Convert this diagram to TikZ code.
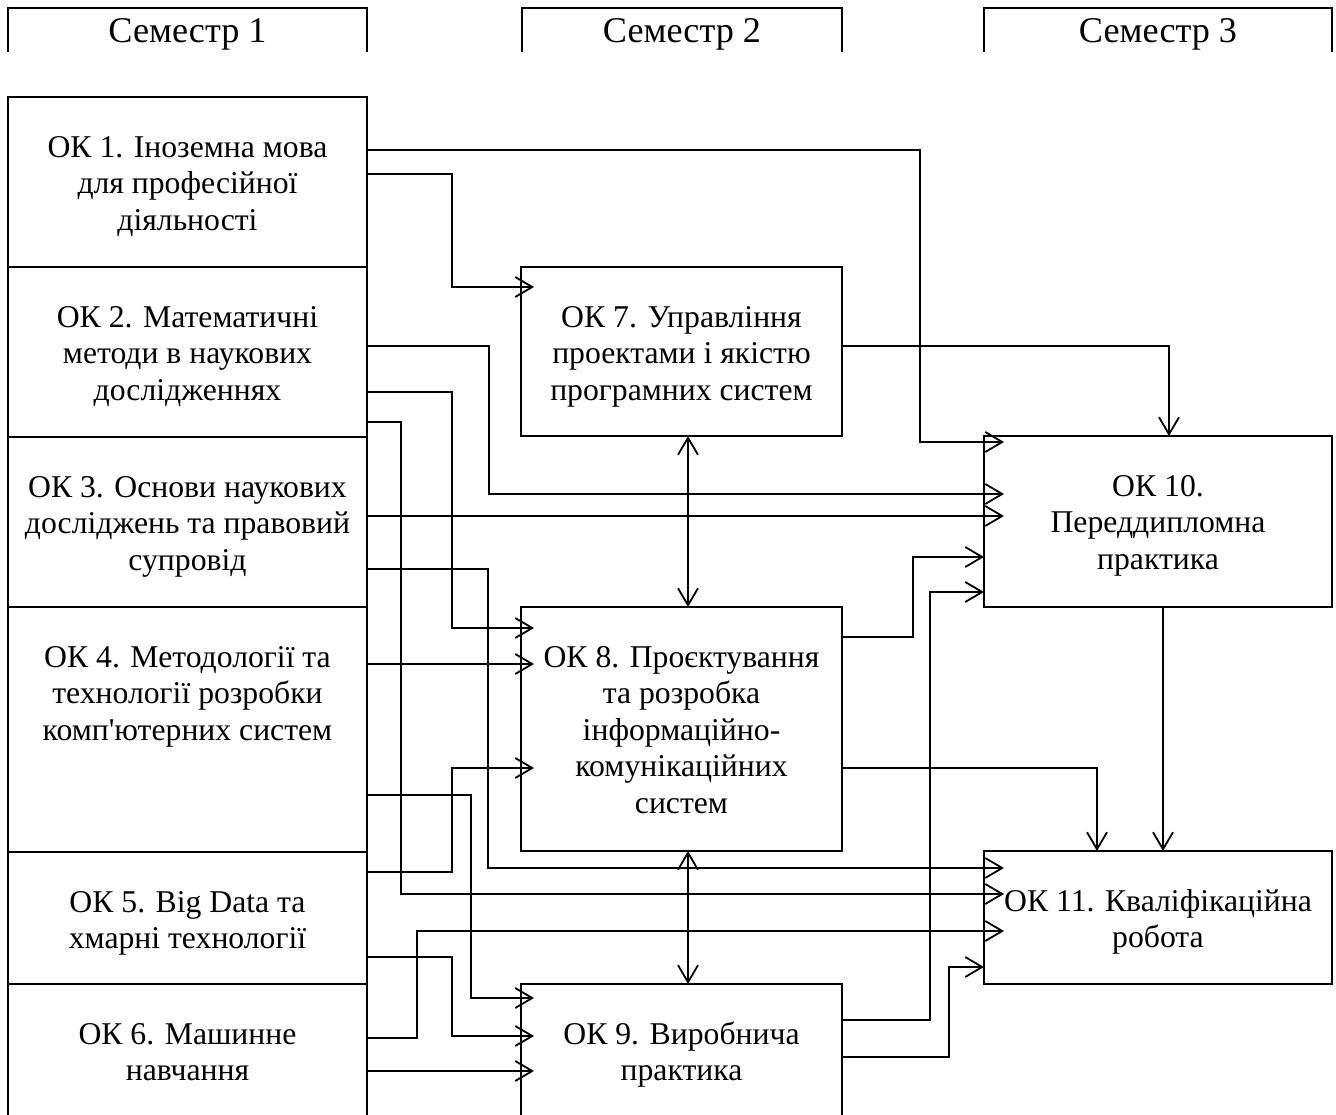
\documentclass[tikz,border=0pt]{standalone}
\usepackage{fontspec}
\newfontfamily\tnr{Liberation Serif}
\usetikzlibrary{arrows.meta,calc}
\begin{document}
\begin{tikzpicture}[x=1pt,y=-1pt,
  box/.style={draw, line width=2.5pt, rectangle, inner sep=0pt, outer sep=0pt},
  hline/.style={line width=2.5pt},
  txt/.style={font=\tnr\fontsize{31.7}{36.5}\selectfont, align=center, anchor=north, inner sep=0pt},
  head/.style={font=\tnr\fontsize{36.2}{40}\selectfont, anchor=north, inner sep=0pt},
  link/.style={line width=1.8pt, -{Straight Barb[length=17pt,width=20pt]}},
  both/.style={line width=1.8pt, {Straight Barb[length=17pt,width=20pt]}-{Straight Barb[length=17pt,width=20pt]}},
]
\useasboundingbox (0,0) rectangle (1336,1115);
\clip (0,0) rectangle (1336,1115);
\fill[white] (0,0) rectangle (1336,1115);

% headers
\draw[hline] (8,52) |- (367,8) -- (367,52);
\draw[hline] (522,52) |- (842,8) -- (842,52);
\draw[hline] (984,52) |- (1332,8) -- (1332,52);
\node[head] (h1) at (187.5,12) {\rule{0pt}{30pt}Семестр 1};
\node[head] (h2) at (682,12) {\rule{0pt}{30pt}Семестр 2};
\node[head] (h3) at (1158,12) {\rule{0pt}{30pt}Семестр 3};

% left column
\node[box, minimum width=359pt, minimum height=170pt] (ok1) at (187.5,182) {};
\node[box, minimum width=359pt, minimum height=170pt] (ok2) at (187.5,352) {};
\node[box, minimum width=359pt, minimum height=170pt] (ok3) at (187.5,522) {};
\node[box, minimum width=359pt, minimum height=245pt] (ok4) at (187.5,729.5) {};
\node[box, minimum width=359pt, minimum height=132pt] (ok5) at (187.5,918) {};
\node[box, minimum width=359pt, minimum height=141pt] (ok6) at (187.5,1054.5) {};
% middle column
\node[box, minimum width=321pt, minimum height=169pt] (ok7) at (681.5,351.5) {};
\node[box, minimum width=321pt, minimum height=244pt] (ok8) at (681.5,729) {};
\node[box, minimum width=321pt, minimum height=141pt] (ok9) at (681.5,1054.5) {};
% right column
\node[box, minimum width=348pt, minimum height=171pt] (ok10) at (1158,521.5) {};
\node[box, minimum width=348pt, minimum height=133pt] (ok11) at (1158,917.5) {};

% texts
\node[txt] (t1) at (187.5,127) {\rule{0pt}{30pt}ОК 1. Іноземна мова\\для професійної\\діяльності};
\node[txt] (t2) at (187.5,297) {\rule{0pt}{30pt}ОК 2. Математичні\\методи в наукових\\дослідженнях};
\node[txt] (t3) at (187.5,467) {\rule{0pt}{30pt}ОК 3. Основи наукових\\досліджень та правовий\\супровід};
\node[txt] (t4) at (187.5,637) {\rule{0pt}{30pt}ОК 4. Методології та\\технології розробки\\комп'ютерних систем};
\node[txt] (t5) at (187.5,882) {\rule{0pt}{30pt}ОК 5. Big Data та\\хмарні технології};
\node[txt] (t6) at (187.5,1014) {\rule{0pt}{30pt}ОК 6. Машинне\\навчання};
\node[txt] (t7) at (681.5,297) {\rule{0pt}{30pt}ОК 7. Управління\\проектами і якістю\\програмних систем};
\node[txt] (t8) at (681.5,637) {\rule{0pt}{30pt}ОК 8. Проєктування\\та розробка\\інформаційно-\\комунікаційних\\систем};
\node[txt] (t9) at (681.5,1014) {\rule{0pt}{30pt}ОК 9. Виробнича\\практика};
\node[txt] (t10) at (1158,466) {\rule{0pt}{30pt}ОК 10.\\Переддипломна\\практика};
\node[txt] (t11) at (1158,881) {\rule{0pt}{30pt}ОК 11. Кваліфікаційна\\робота};

% connectors
\draw[link] (ok1.east |- 0,150) -| (920,442) -- ($(ok10.west|-0,442)+(20,0)$);
\draw[link] (ok1.east |- 0,174) -| (452,287) -- ($(ok7.west|-0,287)+(13,0)$);
\draw[link] (ok2.east |- 0,346) -| (489,494) -- ($(ok10.west|-0,494)+(20,0)$);
\draw[link] (ok2.east |- 0,392) -| (452,628) -- ($(ok8.west|-0,628)+(13,0)$);
\draw[link] (ok2.east |- 0,422) -| (401,894) -- ($(ok11.west|-0,894)+(20,0)$);
\draw[link] (ok3.east |- 0,516) -- ($(ok10.west|-0,516)+(20,0)$);
\draw[link] (ok3.east |- 0,569) -| (488,868) -- ($(ok11.west|-0,868)+(20,0)$);
\draw[link] (ok4.east |- 0,664) -- ($(ok8.west|-0,664)+(13,0)$);
\draw[link] (ok4.east |- 0,795) -| (471,998) -- ($(ok9.west|-0,998)+(13,0)$);
\draw[link] (ok5.east |- 0,872) -| (452,768) -- ($(ok8.west|-0,768)+(13,0)$);
\draw[link] (ok5.east |- 0,957) -| (452,1036) -- ($(ok9.west|-0,1036)+(13,0)$);
\draw[link] (ok6.east |- 0,1038) -| (417,931) -- ($(ok11.west|-0,931)+(20,0)$);
\draw[link] (ok6.east |- 0,1071) -- ($(ok9.west|-0,1071)+(13,0)$);
\draw[link] (ok7.east |- 0,346) -| (1169,0 |- ok10.north);
\draw[both] (688,0 |- ok7.south) -- (688,0 |- ok8.north);
\draw[link] (ok8.east |- 0,637) -| (913,557) -- (ok10.west |- 0,557);
\draw[link] (ok8.east |- 0,768) -| (1097,0 |- ok11.north);
\draw[both] (688,0 |- ok8.south) -- (688,0 |- ok9.north);
\draw[link] (ok9.east |- 0,1020) -| (930,592) -- (ok10.west |- 0,592);
\draw[link] (ok9.east |- 0,1057) -| (949,967) -- (ok11.west |- 0,967);
\draw[link] (1163,0 |- ok10.south) -- (1163,0 |- ok11.north);
\end{tikzpicture}
\end{document}
